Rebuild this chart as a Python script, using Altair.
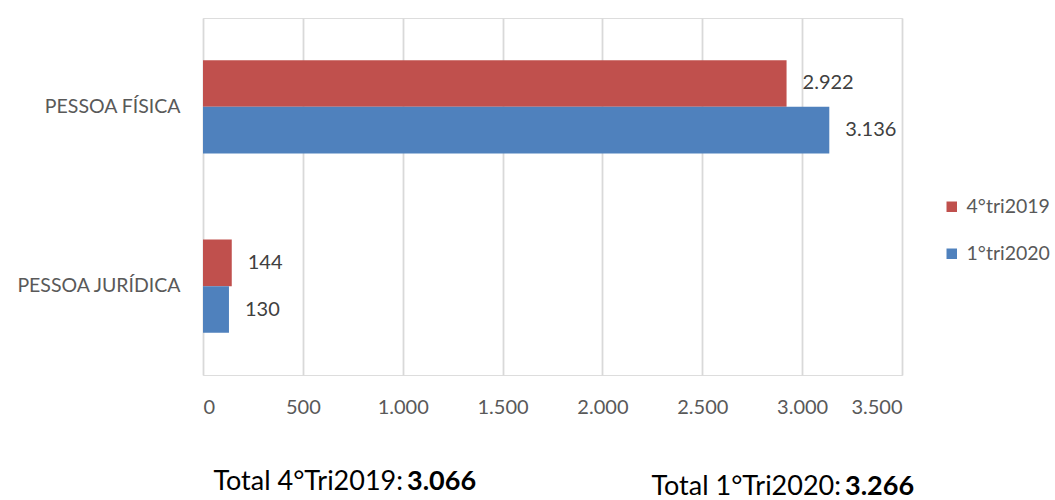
import altair as alt
import pandas as pd

categories = ["PESSOA FÍSICA", "PESSOA JURÍDICA"]
series = ["4°tri2019", "1°tri2020"]
values_2019 = [2922, 144]
values_2020 = [3136, 130]
colors = ["#C0504D", "#4F81BD"]
x_ticks = [0, 500, 1000, 1500, 2000, 2500, 3000, 3500]
totals_prefix = ["Total 4°Tri2019: ", "Total 1°Tri2020: "]
totals_value = ["3.066", "3.266"]

rows = []
for i, c in enumerate(categories):
    rows.append({"cat": c, "serie": series[0], "val": values_2019[i]})
    rows.append({"cat": c, "serie": series[1], "val": values_2020[i]})
df = pd.DataFrame(rows)
df["label"] = df["val"].map(lambda v: f"{v:,}".replace(",", "."))

FONT = "Lato"

y_enc = alt.Y("cat:N", sort=categories, title=None,
              scale=alt.Scale(paddingInner=0.48, paddingOuter=0.235),
              axis=alt.Axis(domain=False, ticks=False, labelFontSize=19.5, labelColor="#595959",
                            labelFont=FONT, labelPadding=23, grid=False))
x_enc = alt.X("val:Q", title=None, scale=alt.Scale(domain=[0, 3500], nice=False),
              axis=alt.Axis(values=x_ticks, domain=False, ticks=False, grid=True,
                            gridColor="#D9D9D9", gridWidth=1.8,
                            labelFontSize=20, labelColor="#595959", labelFont=FONT,
                            labelPadding=22, labelExpr="replace(format(datum.value, ','), ',', '.')"))

base = alt.Chart(df).encode(
    y=y_enc,
    yOffset=alt.YOffset("serie:N", sort=series),
)

bars = base.mark_bar().encode(
    x=x_enc,
    color=alt.Color("serie:N", sort=series,
                    scale=alt.Scale(domain=series, range=colors),
                    legend=alt.Legend(title=None, orient="none", legendX=739, legendY=179,
                                      symbolType="square", symbolSize=110, symbolStrokeWidth=0,
                                      labelFontSize=19.5, labelColor="#595959", labelFont=FONT,
                                      rowPadding=26, labelOffset=5)),
)

labels = base.mark_text(align="left", baseline="middle", dx=16, fontSize=20,
                        color="#404040", font=FONT).encode(
    x=alt.X("val:Q"),
    text="label:N",
)

tdf = pd.DataFrame({"prefix": totals_prefix, "value": totals_value,
                    "xp": [200, 638], "yp": [472, 477]})

t_prefix = alt.Chart(tdf).mark_text(align="right", baseline="alphabetic", fontSize=27,
                                    color="#000000", font=FONT).encode(
    x=alt.X("xp:Q", scale=None), y=alt.Y("yp:Q", scale=None), text="prefix:N")
t_value = alt.Chart(tdf).mark_text(align="left", baseline="alphabetic", fontSize=27,
                                   fontWeight="bold", color="#000000", font=FONT, dx=4).encode(
    x=alt.X("xp:Q", scale=None), y=alt.Y("yp:Q", scale=None), text="value:N")

chart = alt.layer(bars, labels, t_prefix, t_value).properties(
    width=699, height=357,
    autosize=alt.AutoSizeParams(type="none"),
    padding={"left": 203, "top": 18, "right": 153, "bottom": 125},
).configure_view(stroke=None).configure(background="white")

chart.save("out.html", embed_options={"renderer": "svg", "actions": False})
